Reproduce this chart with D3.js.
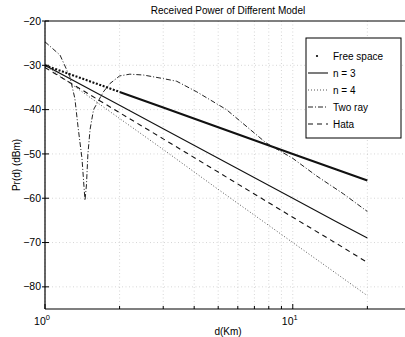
<!DOCTYPE html>
<html>
<head>
<meta charset="utf-8">
<script src="https://cdn.jsdelivr.net/npm/d3@7"></script>
<style>
  body { margin: 0; background: #fff; }
  svg { display: block; font-family: "Liberation Sans", Arial, sans-serif; }
</style>
</head>
<body>
<div id="chart"></div>
<script>
// distances (km) sampled for the straight-line models
const distances = [1, 2, 3, 5, 10, 15, 20];
const freeSpace = [-30, -36, -39.5, -44, -50, -53.5, -56];
const n3 = [-30, -39, -44.3, -51, -60, -65.3, -69];
const n4 = [-30, -42, -49, -58, -70, -77, -82];
const hata = [-30.5, -40.7, -46.6, -54.1, -64.3, -70.2, -74.5];

// two ray model
const twoRayD = [1.0, 1.15, 1.26, 1.32, 1.36, 1.41, 1.45, 1.47, 1.49, 1.52, 1.57, 1.72, 1.83, 2.0, 2.2, 2.5, 3.0, 3.4, 4.1, 5.4, 7.8, 10, 12.5, 16, 20];
const twoRayP = [-24.7, -27.7, -32.6, -37.5, -44, -51, -60.5, -57, -50, -44.5, -40, -36, -34.1, -32.4, -32, -32.2, -33, -33.6, -36, -40, -47.5, -51, -55, -59, -63];

const yTicks = [-20, -30, -40, -50, -60, -70, -80];
const xMajor = [1, 10];
const xMinor = [2, 3, 4, 5, 6, 7, 8, 9, 20];

const legendNames = ['Free space', 'n = 3', 'n = 4', 'Two ray', 'Hata'];

const W = 405, H = 337;
const pLeft = 45, pTop = 21, pBottom = 309, pRight = 411;

const svg = d3.select('#chart').append('svg')
  .attr('width', W).attr('height', H);

const x = d3.scaleLog().domain([1, 30]).range([pLeft, pRight]);
const y = d3.scaleLinear().domain([-85, -20]).range([pBottom, pTop]);

svg.append('clipPath').attr('id', 'plot')
  .append('rect').attr('x', pLeft).attr('y', pTop)
  .attr('width', pRight - pLeft).attr('height', pBottom - pTop);

// grid
const grid = svg.append('g').attr('stroke', '#bbb').attr('stroke-width', 0.6)
  .attr('stroke-dasharray', '1,2.5');
grid.selectAll('.vx').data(xMajor.concat(xMinor)).enter().append('line')
  .attr('x1', d => x(d)).attr('x2', d => x(d))
  .attr('y1', pTop).attr('y2', pBottom);
grid.selectAll('.hy').data(yTicks.slice(1)).enter().append('line')
  .attr('x1', pLeft).attr('x2', pRight)
  .attr('y1', d => y(d)).attr('y2', d => y(d));

// series
const plot = svg.append('g').attr('clip-path', 'url(#plot)').attr('fill', 'none');

const straight = vals => d3.line()
  .x((d, i) => x(distances[i]))
  .y(d => y(d))(vals);

// free space: '.' markers, sparse near d=1 then merging into a thick line
const dots = d3.range(22).map(() => '2,1.6').join(',') + ',2000,0';
plot.append('path').attr('d', straight(freeSpace))
  .attr('stroke', '#111').attr('stroke-width', 2.1)
  .attr('stroke-dasharray', dots);

plot.append('path').attr('d', straight(n3))
  .attr('stroke', '#111').attr('stroke-width', 1.1);

plot.append('path').attr('d', straight(n4))
  .attr('stroke', '#444').attr('stroke-width', 0.9)
  .attr('stroke-dasharray', '1,2');

plot.append('path').attr('d', straight(hata))
  .attr('stroke', '#111').attr('stroke-width', 1.1)
  .attr('stroke-dasharray', '5,4');

plot.append('path')
  .attr('d', d3.line().x((d, i) => x(twoRayD[i])).y(d => y(d))(twoRayP))
  .attr('stroke', '#222').attr('stroke-width', 1)
  .attr('stroke-dasharray', '5,2,1,2');

// axes frame
const frame = svg.append('g').attr('stroke', '#000').attr('stroke-width', 1.2);
frame.append('line').attr('x1', pLeft).attr('x2', pRight).attr('y1', pTop).attr('y2', pTop);
frame.append('line').attr('x1', pLeft).attr('x2', pRight).attr('y1', pBottom).attr('y2', pBottom);
frame.append('line').attr('x1', pLeft).attr('x2', pLeft).attr('y1', pTop).attr('y2', pBottom);

// y ticks
const yAxis = svg.append('g');
yAxis.selectAll('line').data(yTicks).enter().append('line')
  .attr('x1', pLeft - 3).attr('x2', pLeft + 4)
  .attr('y1', d => y(d)).attr('y2', d => y(d))
  .attr('stroke', '#000').attr('stroke-width', 1);
yAxis.selectAll('text').data(yTicks).enter().append('text')
  .attr('x', pLeft - 4).attr('y', d => y(d) + 3.6)
  .attr('text-anchor', 'end').attr('font-size', 10.5)
  .text(d => '\u2212' + Math.abs(d));

// x ticks
svg.append('g').selectAll('line').data(xMajor.concat(xMinor)).enter().append('line')
  .attr('x1', d => x(d)).attr('x2', d => x(d))
  .attr('y1', pBottom).attr('y2', d => pBottom - (xMajor.includes(d) ? 5 : 3))
  .attr('stroke', '#000').attr('stroke-width', 1);

const xl = svg.append('g').selectAll('text').data(xMajor).enter().append('text')
  .attr('x', d => x(d) - 3).attr('y', 325)
  .attr('text-anchor', 'middle').attr('font-size', 10.5);
xl.append('tspan').text('10');
xl.append('tspan').attr('dy', -5).attr('font-size', 7.5).text(d => Math.round(Math.log10(d)));

// titles
svg.append('text').attr('x', (pLeft + pRight) / 2).attr('y', 14)
  .attr('text-anchor', 'middle').attr('font-size', 10).text('Received Power of Different Model');
svg.append('text').attr('x', (pLeft + pRight) / 2).attr('y', 335)
  .attr('text-anchor', 'middle').attr('font-size', 10).text('d(Km)');
svg.append('text')
  .attr('transform', `translate(20,${(pTop + pBottom) / 2}) rotate(-90)`)
  .attr('text-anchor', 'middle').attr('font-size', 10).text('Pr(d) (dBm)');

// legend
const lg = svg.append('g');
lg.append('rect').attr('x', 306).attr('y', 38).attr('width', 95).attr('height', 100)
  .attr('fill', '#fff').attr('stroke', '#000').attr('stroke-width', 1);
const styles = [
  { dash: null, w: 0 },
  { dash: null, w: 1.1, c: '#111' },
  { dash: '1,2', w: 0.9, c: '#444' },
  { dash: '5,2,1,2', w: 1, c: '#222' },
  { dash: '5,4', w: 1.1, c: '#111' }
];
legendNames.forEach((name, i) => {
  const ly = 56 + i * 17;
  if (i === 0) {
    lg.append('circle').attr('cx', 317).attr('cy', ly).attr('r', 1.1).attr('fill', '#000');
  } else {
    lg.append('line').attr('x1', 308).attr('x2', 328).attr('y1', ly).attr('y2', ly)
      .attr('stroke', styles[i].c).attr('stroke-width', styles[i].w)
      .attr('stroke-dasharray', styles[i].dash);
  }
  lg.append('text').attr('x', 333).attr('y', ly + 3.5).attr('font-size', 10).text(name);
});
</script>
</body>
</html>
